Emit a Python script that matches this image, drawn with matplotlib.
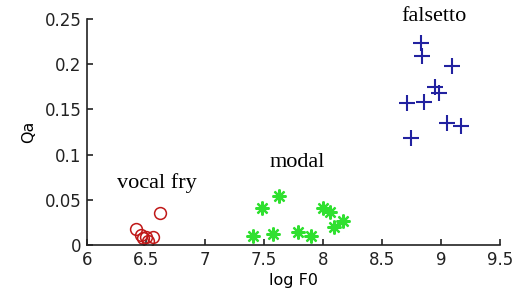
import matplotlib
matplotlib.use("Agg")
import matplotlib.pyplot as plt

# log F0 vs Qa for three phonation types
fry_x = [6.62, 6.42, 6.46, 6.50, 6.56, 6.48, 6.52]
fry_y = [0.035, 0.018, 0.011, 0.009, 0.009, 0.008, 0.005]

modal_x = [7.63, 7.48, 8.00, 8.06, 8.17, 8.09, 7.41, 7.58, 7.79, 7.90]
modal_y = [0.054, 0.041, 0.041, 0.037, 0.027, 0.020, 0.010, 0.012, 0.014, 0.010]

fals_x = [8.83, 8.84, 9.09, 8.95, 8.98, 8.71, 8.86, 9.05, 9.17, 8.75]
fals_y = [0.223, 0.209, 0.198, 0.175, 0.168, 0.157, 0.158, 0.135, 0.132, 0.118]

xticks = [6, 6.5, 7, 7.5, 8, 8.5, 9, 9.5]
yticks = [0, 0.05, 0.1, 0.15, 0.2, 0.25]

fig = plt.figure(figsize=(5.23, 3.0), dpi=100)
ax = fig.add_axes([0.166, 0.183, 0.79, 0.754])

ax.plot(fry_x, fry_y, "o", ms=8.5, mfc="none", mec="#c01818", mew=1.1, ls="none")
ax.plot(modal_x, modal_y, marker=(8, 2, 0), ms=10, color="#30e030", mew=1.6, ls="none")
ax.plot(fals_x, fals_y, "+", ms=11, color="#2222a0", mew=1.5, ls="none")

ax.set_xlim(6, 9.5)
ax.set_ylim(0, 0.25)
ax.set_xticks(xticks)
ax.set_xticklabels([f"{t:g}" for t in xticks])
ax.set_yticks(yticks)
ax.set_yticklabels([f"{t:g}" for t in yticks])

for s in ["top", "right"]:
    ax.spines[s].set_visible(False)
for s in ["left", "bottom"]:
    ax.spines[s].set_linewidth(1.2)
    ax.spines[s].set_color("#222222")
ax.tick_params(direction="in", length=4, width=1.2, labelsize=12, pad=4, colors="#222222")

ax.set_xlabel("log F0", fontsize=11.5, labelpad=3)
ax.set_ylabel("Qa", fontsize=11.5, labelpad=6)

serif = "Liberation Serif"
ax.text(8.94, 0.253, "falsetto", family=serif, fontsize=16, ha="center", va="center", clip_on=False)
ax.text(7.78, 0.091, "modal", family=serif, fontsize=16, ha="center", va="center")
ax.text(6.59, 0.069, "vocal fry", family=serif, fontsize=16, ha="center", va="center")

fig.savefig("out.png", dpi=100)
